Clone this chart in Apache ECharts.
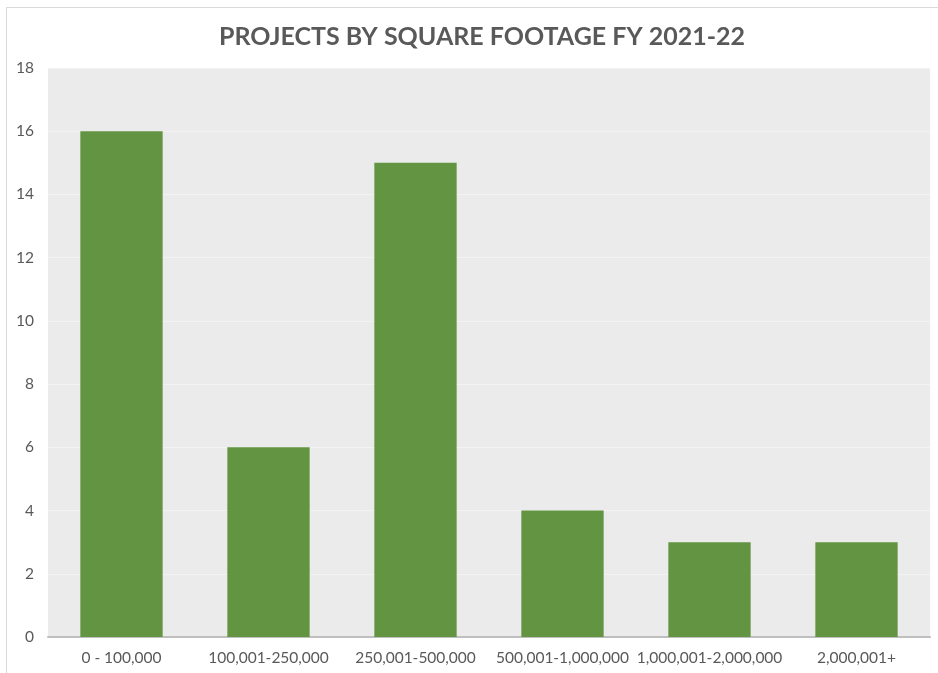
<!DOCTYPE html>
<html>
<head>
<meta charset="utf-8">
<script src="https://cdn.jsdelivr.net/npm/echarts@6/dist/echarts.min.js"></script>
<style>
	html, body { margin: 0; padding: 0; background: #fff; }
	#frame { position: absolute; left: 6px; top: 7px; width: 940px; height: 680px; border: 1px solid #d9d9d9; box-sizing: border-box; }
	#chart { position: absolute; left: 0; top: 0; width: 938px; height: 673px; }
</style>
</head>
<body>
<div id="frame"></div>
<div id="chart"></div>
<script>
var categories = ['0 - 100,000', '100,001-250,000', '250,001-500,000', '500,001-1,000,000', '1,000,001-2,000,000', '2,000,001+'];
var projects = [16, 6, 15, 4, 3, 3];

var chart = echarts.init(document.getElementById('chart'));

var option = {
	backgroundColor: 'transparent',
	animation: false,
	title: {
		text: 'PROJECTS BY SQUARE FOOTAGE FY 2021-22',
		left: 477,
		textAlign: 'center',
		top: 19,
		textStyle: {
			fontFamily: 'Lato',
			fontWeight: 'bold',
			fontSize: 25,
			color: '#595959'
		}
	},
	grid: {
		left: 48,
		right: 8,
		top: 68,
		bottom: 36,
		show: true,
		backgroundColor: '#ebebeb',
		borderWidth: 0
	},
	xAxis: {
		type: 'category',
		data: categories,
		axisTick: { show: false },
		axisLine: {
			show: true,
			lineStyle: { color: '#bfbfbf', width: 2 }
		},
		axisLabel: {
			fontFamily: 'Lato',
			fontSize: 15.5,
			color: '#595959',
			margin: 13,
			interval: 0
		}
	},
	yAxis: {
		type: 'value',
		min: 0,
		max: 18,
		interval: 2,
		axisLine: { show: false },
		axisTick: { show: false },
		axisLabel: {
			fontFamily: 'Lato',
			fontSize: 15.5,
			color: '#595959',
			margin: 14
		},
		splitLine: {
			show: true,
			lineStyle: { color: '#f3f3f3', width: 1 }
		}
	},
	series: [{
		type: 'bar',
		data: projects,
		barWidth: '56%',
		itemStyle: { color: '#629441' }
	}]
};
chart.setOption(option);
</script>
</body>
</html>
